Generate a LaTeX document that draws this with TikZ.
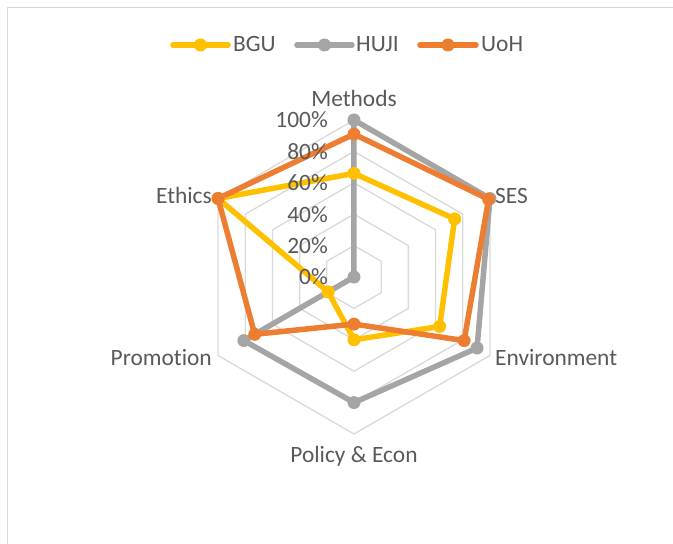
\documentclass[tikz,border=0pt]{standalone}
\usepackage{fontspec}
\setmainfont{Carlito}[Ligatures=NoCommon]
\usetikzlibrary{calc}
\definecolor{bgu}{HTML}{FFC000}
\definecolor{huji}{HTML}{A5A5A5}
\definecolor{uoh}{HTML}{ED7D31}
\definecolor{gridgray}{HTML}{D9D9D9}
\definecolor{txtgray}{HTML}{595959}

\begin{document}
\begin{tikzpicture}[x=1pt,y=1pt,
    lbl/.style={text=txtgray,font=\fontsize{23.4}{28}\selectfont,inner sep=0pt},
    series/.style={line width=5.5pt,line join=round,line cap=round},
    dot/.style={circle,fill=#1,inner sep=0pt,minimum size=13pt}]
    \useasboundingbox (-354,-267) rectangle (319,277);
    % Rahmen
    \draw[gridgray,line width=1.3pt] (-346.5,-267) -- (-346.5,269.5) -- (319,269.5);
    % Gitter
    \foreach \r in {1,...,5} {
        \draw[gridgray,line width=1.3pt] (90:{\r*31.4})
            \foreach \a in {30,-30,-90,-150,150} { -- (\a:{\r*31.4}) } -- cycle;
    }
    % Werte
    \foreach \v [count=\i] in {0.66,0.74,0.63,0.40,0.19,1.0}
        \coordinate (bgu\i) at ({150-60*\i}:{\v*157});
    \foreach \v [count=\i] in {1.0,1.0,0.905,0.8,0.81,0}
        \coordinate (huji\i) at ({150-60*\i}:{\v*157});
    \foreach \v [count=\i] in {0.91,0.99,0.81,0.30,0.73,1.0}
        \coordinate (uoh\i) at ({150-60*\i}:{\v*157});
    % Linien
    \foreach \s in {bgu,huji,uoh}
        \draw[series,\s] (\s1) -- (\s2) -- (\s3) -- (\s4) -- (\s5) -- (\s6) -- cycle;
    % Punkte
    \foreach \s in {bgu,huji,uoh} {
        \foreach \i in {1,...,6}
            \node[dot=\s] (\s dot\i) at (\s\i) {};
    }
    % Skala
    \foreach \r in {0,...,5} {
        \pgfmathtruncatemacro{\p}{20*\r}
        \node[lbl,anchor=base east] (tick\r) at (-26,{\r*31.4-8}) {\p\%};
    }
    % Achsen
    \node[lbl,anchor=base] (methods) at (0,170) {Methods};
    \node[lbl,anchor=base west] (ses) at (141,73) {SES};
    \node[lbl,anchor=base west] (env) at (141,-88) {Environment};
    \node[lbl,anchor=base] (policy) at (0,-185) {Policy \& Econ};
    \node[lbl,anchor=base east] (promo) at (-142,-88) {Promotion};
    \node[lbl,anchor=base east] (ethics) at (-142,73) {Ethics};
    % Legende
    \coordinate (lb1) at (-181,232); \coordinate (lb2) at (-126,232);
    \coordinate (lh1) at (-57,232);  \coordinate (lh2) at (-2,232);
    \coordinate (lu1) at (66,232);   \coordinate (lu2) at (122,232);
    \draw[series,bgu] (lb1) -- (lb2);
    \draw[series,huji] (lh1) -- (lh2);
    \draw[series,uoh] (lu1) -- (lu2);
    \node[dot=bgu] (legbgu) at ($(lb1)!0.5!(lb2)$) {};
    \node[dot=huji] (leghuji) at ($(lh1)!0.5!(lh2)$) {};
    \node[dot=uoh] (leguoh) at ($(lu1)!0.5!(lu2)$) {};
    \node[lbl,anchor=base west] (tbgu) at (-121,225) {BGU};
    \node[lbl,anchor=base west] (thuji) at (2,225) {HUJI};
    \node[lbl,anchor=base west] (tuoh) at (127,225) {UoH};
\end{tikzpicture}
\end{document}
